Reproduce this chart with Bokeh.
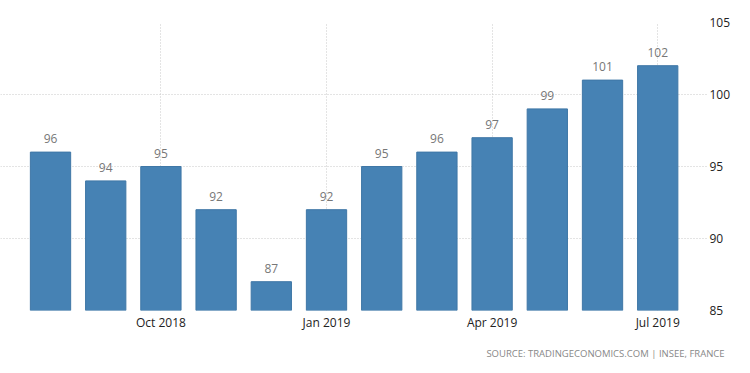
from bokeh.plotting import figure
from bokeh.models import ColumnDataSource, Range1d, FixedTicker, Title, LabelSet
from bokeh.core.properties import value
from bokeh.embed import file_html
from bokeh.resources import INLINE

months = ["Aug 2018", "Sep 2018", "Oct 2018", "Nov 2018", "Dec 2018", "Jan 2019",
          "Feb 2019", "Mar 2019", "Apr 2019", "May 2019", "Jun 2019", "Jul 2019"]
values = [96, 94, 95, 92, 87, 92, 95, 96, 97, 99, 101, 102]
tick_months = ["Oct 2018", "Jan 2019", "Apr 2019", "Jul 2019"]
y_ticks = [85, 90, 95, 100, 105]

idx = list(range(len(months)))
src = ColumnDataSource(dict(x=idx, top=values, lab=[str(v) for v in values]))

FONT = "Open Sans"
p = figure(width=742, height=370, output_backend="svg", toolbar_location=None,
           x_range=Range1d(-0.906, 11.92), y_range=Range1d(85, 105),
           x_axis_location="below", y_axis_location="right",
           min_border_left=0, min_border_top=22, min_border_right=34, min_border_bottom=60)
p.outline_line_color = None
p.background_fill_color = "white"
p.border_fill_color = "white"

p.vbar(x="x", top="top", bottom=85, width=0.73, source=src,
       fill_color="#4682B4", line_color="#3f77a6", line_width=1)

labels = LabelSet(x="x", y="top", text="lab", source=src, text_align="center",
                  text_baseline="bottom", y_offset=9, text_font_size=value("12px"),
                  text_color=value("#777777"), text_font=value(FONT))
p.add_layout(labels)

tick_pos = [months.index(m) for m in tick_months]
xa = p.xaxis[0]
xa.ticker = FixedTicker(ticks=tick_pos)
xa.major_label_overrides = {i: m for i, m in zip(tick_pos, tick_months)}
xa.axis_line_color = None
xa.major_tick_line_color = None
xa.minor_tick_line_color = None
xa.major_tick_out = 0
xa.major_tick_in = 0
xa.minor_tick_out = 0
xa.major_label_text_font = FONT
xa.major_label_text_font_size = "12px"
xa.major_label_text_color = "#222222"
xa.major_label_standoff = 3

ya = p.yaxis[0]
ya.ticker = FixedTicker(ticks=y_ticks)
ya.axis_line_color = None
ya.major_tick_line_color = None
ya.minor_tick_line_color = None
ya.major_tick_out = 0
ya.major_tick_in = 0
ya.minor_tick_out = 0
ya.major_label_text_font = FONT
ya.major_label_text_font_size = "12px"
ya.major_label_text_color = "#222222"
ya.major_label_standoff = 1

p.xgrid.ticker = FixedTicker(ticks=tick_pos)
p.ygrid.ticker = FixedTicker(ticks=y_ticks)
for g in (p.xgrid[0], p.ygrid[0]):
    g.grid_line_color = "#c8c8c8"
    g.grid_line_dash = "1 2"
    g.grid_line_width = 1

src_title = Title(text="SOURCE: TRADINGECONOMICS.COM  |  INSEE, FRANCE", align="right",
                  text_font=FONT, text_font_size="9.5px", text_color="#888888",
                  text_font_style="normal", offset=-21, standoff=22)
p.add_layout(src_title, "below")

open("out.html", "w").write(file_html(p, INLINE))
